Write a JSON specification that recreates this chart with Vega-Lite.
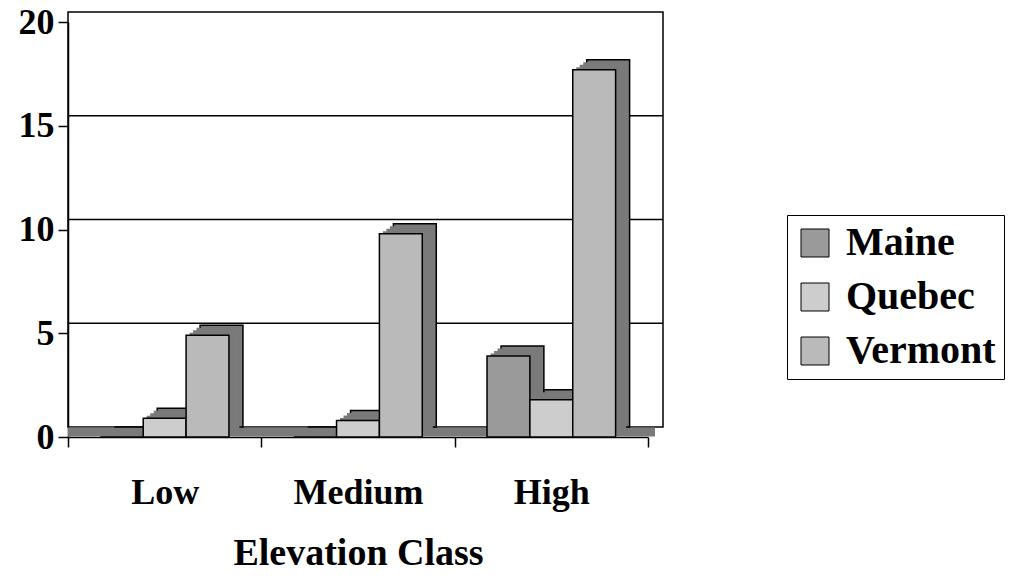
{
  "$schema": "https://vega.github.io/schema/vega-lite/v6.json",
  "width": 580,
  "height": 415,
  "autosize": {"type": "none"},
  "padding": {"left": 68, "top": 22, "right": 362, "bottom": 143},
  "background": "white",
  "config": {"view": {"stroke": null}},
  "datasets": {
    "bars": [
      {"elevation": "Low", "state": "Maine", "value": 0},
      {"elevation": "Low", "state": "Quebec", "value": 0.9},
      {"elevation": "Low", "state": "Vermont", "value": 4.9},
      {"elevation": "Medium", "state": "Maine", "value": 0},
      {"elevation": "Medium", "state": "Quebec", "value": 0.8},
      {"elevation": "Medium", "state": "Vermont", "value": 9.8},
      {"elevation": "High", "state": "Maine", "value": 3.9},
      {"elevation": "High", "state": "Quebec", "value": 1.8},
      {"elevation": "High", "state": "Vermont", "value": 17.7}
    ]
  },
  "resolve": {"scale": {"xOffset": "independent"}},
  "layer": [
    {
      "data": {"values": [{"a": 1}]},
      "mark": {"type": "rect", "fill": "transparent", "stroke": "black", "strokeWidth": 1.5, "xOffset": 15, "x2Offset": 15, "yOffset": -10, "y2Offset": -10},
      "encoding": {
        "y": {"datum": 0, "type": "quantitative", "scale": {"domain": [0, 20], "nice": false}},
        "y2": {"datum": 20}
      }
    },
    {
      "data": {"values": [{"g": 5}, {"g": 10}, {"g": 15}]},
      "mark": {"type": "rule", "color": "black", "strokeWidth": 1.5, "xOffset": 15, "x2Offset": 15, "yOffset": -10},
      "encoding": {"y": {"field": "g", "type": "quantitative"}}
    },
    {
      "data": {"values": [{"a": 1}]},
      "mark": {"type": "rule", "color": "#7a7a7a", "strokeWidth": 9, "xOffset": 7, "x2Offset": 7, "yOffset": -5},
      "encoding": {"y": {"datum": 0, "type": "quantitative"}}
    },
    {
      "data": {"name": "bars"},
      "mark": {"type": "bar", "fill": "#7a7a7a", "stroke": "black", "strokeWidth": 1.5, "yOffset": -10, "y2Offset": -10},
      "encoding": {
        "x": {"field": "elevation", "type": "nominal", "sort": ["Low", "Medium", "High"], "scale": {"paddingInner": 0, "paddingOuter": 0}},
        "xOffset": {"field": "state", "type": "nominal", "sort": ["Maine", "Quebec", "Vermont"], "scale": {"paddingInner": 0, "paddingOuter": 0.755, "range": [14, 207.3]}},
        "y": {"field": "value", "type": "quantitative"}
      }
    },
    {
      "data": {"name": "bars"},
      "mark": {"type": "bar", "fill": "#7a7a7a", "strokeWidth": 0, "yOffset": -7.5, "y2Offset": -7.5},
      "encoding": {
        "x": {"field": "elevation", "type": "nominal", "sort": ["Low", "Medium", "High"]},
        "xOffset": {"field": "state", "type": "nominal", "sort": ["Maine", "Quebec", "Vermont"], "scale": {"paddingInner": 0, "paddingOuter": 0.755, "range": [10.5, 203.8]}},
        "y": {"field": "value", "type": "quantitative"}
      }
    },
    {
      "data": {"name": "bars"},
      "mark": {"type": "bar", "fill": "#7a7a7a", "strokeWidth": 0, "yOffset": -5, "y2Offset": -5},
      "encoding": {
        "x": {"field": "elevation", "type": "nominal", "sort": ["Low", "Medium", "High"]},
        "xOffset": {"field": "state", "type": "nominal", "sort": ["Maine", "Quebec", "Vermont"], "scale": {"paddingInner": 0, "paddingOuter": 0.755, "range": [7, 200.3]}},
        "y": {"field": "value", "type": "quantitative"}
      }
    },
    {
      "data": {"name": "bars"},
      "mark": {"type": "bar", "fill": "#7a7a7a", "strokeWidth": 0, "yOffset": -2.5, "y2Offset": -2.5},
      "encoding": {
        "x": {"field": "elevation", "type": "nominal", "sort": ["Low", "Medium", "High"]},
        "xOffset": {"field": "state", "type": "nominal", "sort": ["Maine", "Quebec", "Vermont"], "scale": {"paddingInner": 0, "paddingOuter": 0.755, "range": [3.5, 196.8]}},
        "y": {"field": "value", "type": "quantitative"}
      }
    },
    {
      "data": {"name": "bars"},
      "mark": {"type": "bar", "stroke": "black", "strokeWidth": 1.5, "opacity": 1},
      "encoding": {
        "x": {
          "field": "elevation", "type": "nominal", "sort": ["Low", "Medium", "High"],
          "axis": {
            "tickBand": "extent", "tickSize": 10, "tickColor": "black", "tickWidth": 1.5,
            "domainColor": "black", "domainWidth": 1.5,
            "labelAngle": 0, "labelAlign": "center", "labelFont": "Liberation Serif", "labelFontSize": 36, "labelFontWeight": "bold", "labelColor": "black", "labelPadding": 45,
            "title": "Elevation Class", "titleFont": "Liberation Serif", "titleFontSize": 38, "titleFontWeight": "bold", "titleColor": "black", "titlePadding": 24
          }
        },
        "xOffset": {"field": "state", "type": "nominal", "sort": ["Maine", "Quebec", "Vermont"], "scale": {"paddingInner": 0, "paddingOuter": 0.755, "range": [0, 193.3]}},
        "y": {
          "field": "value", "type": "quantitative",
          "axis": {
            "values": [0, 5, 10, 15, 20], "grid": false, "title": null,
            "tickSize": 10, "tickColor": "black", "tickWidth": 1.5,
            "domainColor": "black", "domainWidth": 1.5,
            "labelFont": "Liberation Serif", "labelFontSize": 36, "labelFontWeight": "bold", "labelColor": "black", "labelPadding": 4
          }
        },
        "color": {
          "field": "state", "type": "nominal",
          "scale": {"domain": ["Maine", "Quebec", "Vermont"], "range": ["#9a9a9a", "#cdcdcd", "#bababa"]},
          "legend": {
            "title": null, "orient": "none", "legendX": 719, "legendY": 193,
            "strokeColor": "black", "padding": 8, "symbolType": "square", "symbolSize": 784,
            "symbolStrokeColor": "black", "symbolStrokeWidth": 1, "symbolOpacity": 1,
            "labelFont": "Liberation Serif", "labelFontSize": 40, "labelFontWeight": "bold", "labelColor": "black",
            "labelOffset": 11, "rowPadding": 14
          }
        }
      }
    }
  ]
}
